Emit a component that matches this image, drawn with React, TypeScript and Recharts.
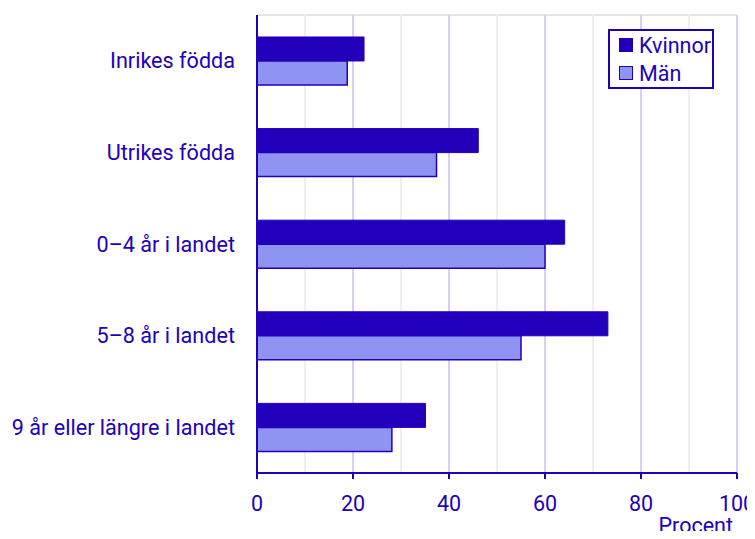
import React from 'react';
import { BarChart, Bar, XAxis, YAxis, CartesianGrid, Legend } from 'recharts';

const categories = ['Inrikes födda', 'Utrikes födda', '0–4 år i landet', '5–8 år i landet', '9 år eller längre i landet'];
const kvinnor = [22.3, 46.1, 64.1, 73.1, 35.1];
const man = [18.8, 37.4, 60.0, 55.0, 28.1];
const xTicks = [0, 10, 20, 30, 40, 50, 60, 70, 80, 90, 100];

const data = categories.map((c, i) => ({ name: c, Kvinnor: kvinnor[i], 'Män': man[i] }));

const DARK = '#2200bb';
const LIGHT = '#8f94f2';
const MAJOR = '#d4d2f2';
const MINOR = '#eeeef3';
const FONT = 'Roboto, sans-serif';
const TICK_SIZE = 6;
const TICK_MARGIN = 17;

const LegendBox = (props: any) => {
  const payload = props.payload || [];
  return (
    <div style={{ boxSizing: 'border-box', width: 106, border: `2px solid ${DARK}`, background: '#fff', padding: '0 0 0 9px', fontFamily: FONT, fontSize: 21.5, color: DARK }}>
      {payload.map((p: any) => (
        <div key={p.value} style={{ display: 'flex', alignItems: 'center', height: 28 }}>
          <span style={{ boxSizing: 'border-box', display: 'inline-block', width: 14, height: 14, background: p.color, border: `1.5px solid ${DARK}`, marginRight: 6 }} />
          <span>{p.value}</span>
        </div>
      ))}
    </div>
  );
};

const gridLine = (p: any) => (
  <line
    key={p.key ?? `g-${p.index}`}
    x1={p.x1}
    y1={p.y1}
    x2={p.x2}
    y2={p.y2}
    stroke={p.index % 2 === 0 ? MAJOR : MINOR}
    strokeWidth={2}
  />
);

const XTick = (props: any) => {
  const { x, y, payload, index } = props;
  if (index % 2 !== 0) return <g />;
  const axisY = y - TICK_SIZE - TICK_MARGIN;
  return (
    <g>
      <line x1={x} x2={x} y1={axisY} y2={axisY + TICK_SIZE} stroke={DARK} strokeWidth={2} />
      <text x={x} y={y} dy="0.71em" textAnchor="middle" fill={DARK} fontSize={21.5} fontFamily={FONT}>
        {payload.value}
      </text>
    </g>
  );
};

const ProcentLabel = (props: any) => {
  const vb = props.viewBox || {};
  return (
    <text x={vb.x + vb.width - 4} y={vb.y + 60} textAnchor="end" fill={DARK} fontSize={21.5} fontFamily={FONT}>
      Procent
    </text>
  );
};

export default function App() {
  return (
    <div style={{ margin: -8, width: 755, height: 539 }}>
      <BarChart
        width={755}
        height={539}
        data={data}
        layout="vertical"
        margin={{ top: 15, right: 18, bottom: 0, left: 8 }}
        barCategoryGap="24%"
        barGap={0}
      >
        <CartesianGrid
          vertical={gridLine}
          horizontal={{ stroke: MAJOR, strokeWidth: 2 }}
          horizontalCoordinatesGenerator={(a: any) => [a.offset.top]}
        />
        <XAxis
          type="number"
          domain={[0, 100]}
          ticks={xTicks}
          interval={0}
          height={66}
          axisLine={{ stroke: DARK, strokeWidth: 2 }}
          tickLine={false}
          tickSize={TICK_SIZE}
          tickMargin={TICK_MARGIN}
          tick={<XTick />}
          label={<ProcentLabel />}
        />
        <YAxis
          type="category"
          dataKey="name"
          width={249}
          axisLine={{ stroke: DARK, strokeWidth: 2 }}
          tickLine={false}
          tickSize={6}
          tickMargin={16}
          tick={{ fill: DARK, fontSize: 21.6, fontFamily: FONT }}
        />
        <Legend
          layout="horizontal"
          verticalAlign="middle"
          align="center"
          content={<LegendBox />}
          wrapperStyle={{ top: 29, left: 608, width: 106, height: 60 }}
        />
        <Bar dataKey="Kvinnor" fill={DARK} stroke={DARK} strokeWidth={1} isAnimationActive={false} />
        <Bar dataKey="Män" fill={LIGHT} stroke={DARK} strokeWidth={1.5} isAnimationActive={false} />
      </BarChart>
    </div>
  );
}
